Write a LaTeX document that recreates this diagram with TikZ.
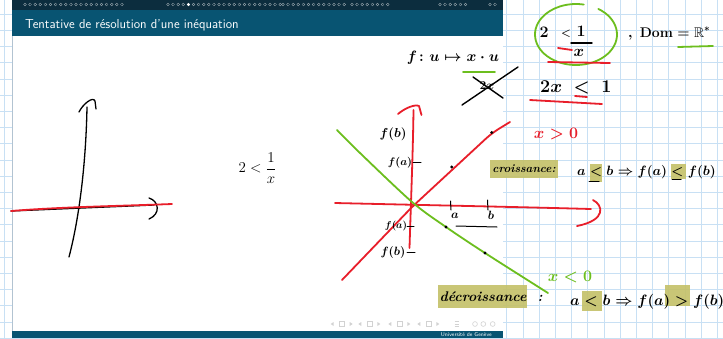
\documentclass[tikz,border=0pt]{standalone}
\usepackage{fix-cm}
\usepackage{xcolor}
\usepackage{amsmath}
\usepackage{amssymb}
\usepackage{tikz}
\usetikzlibrary{positioning,calc}
\definecolor{GridBlue}{RGB}{200,224,244}
\definecolor{NavBar}{RGB}{12,45,62}
\definecolor{TitleBar}{RGB}{8,84,114}
\definecolor{InkRed}{RGB}{232,30,42}
\definecolor{InkGreen}{RGB}{108,190,30}
\definecolor{Marker}{RGB}{196,192,104}

\begin{document}
\begin{tikzpicture}[
  x=1pt,
  y=-1pt,
  ink/.style={line width=1.4pt, line cap=round, line join=round},
  blackink/.style={ink, draw=black},
  redink/.style={ink, draw=InkRed, line width=1.8pt},
  greenink/.style={ink, draw=InkGreen, line width=1.8pt},
  hand/.style={inner sep=0pt, font=\fontsize{15}{15}\selectfont, execute at begin node=\boldmath},
  word/.style={inner sep=0pt, font=\bfseries\itshape\fontsize{12}{12}\selectfont},
  marker/.style={fill=Marker, opacity=0.9},
  navicon/.style={gray!35}
]
\useasboundingbox (0,0) rectangle (723,338);

% Paper: squared sheet behind the slide
\fill[white] (0,0) rectangle (723,338);
\foreach \k in {0,...,44}
  \draw[GridBlue, line width=0.6pt] ({4.5+16.2*\k},0) -- ({4.5+16.2*\k},338);
\foreach \k in {0,...,20}
  \draw[GridBlue, line width=0.6pt] (0,{14.1+16.2*\k}) -- (723,{14.1+16.2*\k});

% Slide frame, bars and title
\fill[white] (12,0) rectangle (503,338);
\draw[GridBlue!70!gray, line width=0.4pt] (12,0) -- (12,338);
\fill[NavBar] (12,0) rectangle (503,10);
\fill[TitleBar] (12,10) rectangle (503,36);
\fill[TitleBar] (12,331) rectangle (503,338);
\foreach \s/\n in {25/19, 168/22, 283/12, 352/7, 440/5, 490/1}
  \foreach \i in {0,...,\n}
    \draw[white!60!NavBar, line width=0.3pt] ({\s+5.1*\i},4.5) circle (1.4);
\fill[white] (188.4,4.5) circle (1.6);
\node[anchor=base west, text=white, inner sep=0pt,
  font=\sffamily\fontsize{13}{13}\selectfont] (title) at (25,28)
  {Tentative de résolution d'une inéquation};
\node[anchor=base east, text=white, inner sep=0pt,
  font=\sffamily\fontsize{5.5}{5.5}\selectfont] (uni) at (492,336.6)
  {Université de Genève};

% Navigation symbols
\foreach \c in {341.7, 369.3, 399.3, 428.3} {
  \fill[navicon] (\c-8,322) -- (\c-11,324) -- (\c-8,326) -- cycle;
  \draw[navicon, line width=0.6pt] (\c-2.5,321.5) rectangle (\c+2.5,326.5);
  \fill[navicon] (\c+8,322) -- (\c+11,324) -- (\c+8,326) -- cycle;
}
\draw[navicon, line width=0.6pt] (454.5,321.5) -- (459,321.5) (454.5,324) -- (459,324) (454.5,326.5) -- (459,326.5);
\foreach \x in {475, 483.3, 492.7}
  \draw[navicon, line width=0.6pt] (\x,324) circle (2.4);

% Left sketch: axes
\draw[blackink, line width=1.3pt] (69,257) .. controls (80,215) and (86,160) .. (87,107);
\draw[blackink, line width=1.3pt] (79,112) .. controls (83,104) and (93,96) .. (95,101) -- (96,109);
\draw[blackink, line width=1.3pt] (11,211) -- (154,205);
\draw[blackink, line width=1.3pt] (149,198) .. controls (159,201) and (161,214) .. (149,219);
\draw[redink] (11,211) .. controls (60,207) and (120,206) .. (172,204);

% Slide formula
\node[font=\fontsize{15}{15}\selectfont, inner sep=0pt] (ineq) at (257.5,168) {$2<\dfrac{1}{x}$};

% Right sketch: axes and the two lines
\draw[redink] (335,203) .. controls (420,205) and (520,207) .. (591,209);
\draw[redink] (593,200) .. controls (603,205) and (607,220) .. (577,226);
\draw[redink] (409.5,248) .. controls (411,200) and (413,150) .. (413.5,110);
\draw[redink] (398,114) .. controls (405,108) and (415,104) .. (419,106) -- (421.5,115);
\draw[redink, rounded corners=8pt] (342,280) -- (412,207) -- (492,133) -- (510,122);
\draw[greenink] plot[smooth] coordinates {(337,130) (360,153) (412,202) (446,227) (485,253) (548,293)};
\fill (451.7,167) circle (1.7);
\fill (491.7,132.5) circle (1.7);
\fill (446,227) circle (1.7);
\fill (485,253) circle (1.7);

% ticks and values
\draw[blackink, line width=1pt] (450.5,201) -- (451,210);
\draw[blackink, line width=1pt] (487.5,200) -- (488,210);
\node[hand, font=\fontsize{12}{12}\selectfont] (a) at (455,216) {$a$};
\node[hand, font=\fontsize{12}{12}\selectfont] (b) at (491,215) {$b$};
\draw[blackink, line width=1pt] (456,226) -- (497,227);
\node[hand, font=\fontsize{13}{13}\selectfont] (fbtop) at (393,134) {$f(b)$};
\node[hand, font=\fontsize{11}{11}\selectfont] (fatop) at (400,163) {$f(a)$};
\draw[blackink, line width=1pt] (413,162) -- (421,162);
\node[hand, font=\fontsize{10}{10}\selectfont] (falow) at (396,226) {$f(a)$};
\draw[blackink, line width=1pt] (407,226) -- (414,226);
\node[hand, font=\fontsize{12}{12}\selectfont] (fblow) at (393,252) {$f(b)$};
\draw[blackink, line width=1pt] (407,252) -- (415,252);

% Top right notes
\node[hand, font=\fontsize{15}{15}\selectfont] (fmap) at (453,58) {$f\colon u\mapsto x\cdot u$};
\draw[greenink] (463,72) -- (495,72);
\node[hand, font=\fontsize{12}{12}\selectfont] (crossed) at (487,86) {$2x$};
\draw[blackink] (462,105) -- (518,67);
\draw[blackink] (473,77) -- (503,98);

\draw[greenink] (576,34.5) ++(-57:41 and 30.5)
  arc[start angle=-57, end angle=281, x radius=41, y radius=30.5];
\node[hand, font=\fontsize{16}{16}\selectfont] (two) at (544,32) {$2$};
\node[hand, font=\fontsize{11}{11}\selectfont] (lt) at (566,34) {$<$};
\node[hand, font=\fontsize{16}{16}\selectfont] (one) at (581,31) {$1$};
\draw[blackink] (571,43) -- (592,43);
\node[hand, font=\fontsize{16}{16}\selectfont] (xden) at (579,53) {$x$};
\draw[redink] (558,48) -- (572,50);
\draw[redink] (548,62) -- (610,63);

\node[hand, anchor=base west, font=\fontsize{14}{14}\selectfont] (dom) at (628,37) {$,\;\mathrm{Dom}=\mathbb{R}^*$};
\draw[greenink] (678,47) -- (713,46);

\node[hand, anchor=base west, font=\fontsize{18}{18}\selectfont] (twox) at (540,92) {$2x\;<\;1$};
\draw[redink] (530,100) -- (602,104);
\draw[redink] (575,96) -- (587,97);

% Increasing case
\node[hand, text=InkRed, font=\fontsize{16}{16}\selectfont] (xpos) at (556,134) {$x>0$};
\fill[marker] (490,160) rectangle (558,178);
\node[word, font=\bfseries\itshape\fontsize{11.5}{11.5}\selectfont] (incrword) at (524,169) {croissance:};
\fill[marker] (590,164) rectangle (602,182);
\fill[marker] (671,164) rectangle (686,179);
\node[hand, anchor=base west, font=\fontsize{13.5}{13.5}\selectfont] (incr) at (577,175) {$a<b\Rightarrow f(a)<f(b)$};
\draw[blackink, line width=1pt] (589,181) -- (599,181);
\draw[blackink, line width=1pt] (672,179) -- (681,179);

% Decreasing case
\node[hand, text=InkGreen, font=\fontsize{16}{16}\selectfont] (xneg) at (570,277) {$x<0$};
\fill[marker] (438,285) rectangle (527,308);
\node[word, font=\bfseries\itshape\fontsize{14}{14}\selectfont] (decrword) at (483,297) {décroissance};
\node[word, font=\bfseries\itshape\fontsize{14}{14}\selectfont] (colon) at (540,298) {:};
\fill[marker] (582,291) rectangle (602,311);
\fill[marker] (665,285) rectangle (690,306);
\node[hand, anchor=base west, font=\fontsize{15}{15}\selectfont] (decr) at (570,305) {$a<b\Rightarrow f(a)>f(b)$};
\end{tikzpicture}
\end{document}
